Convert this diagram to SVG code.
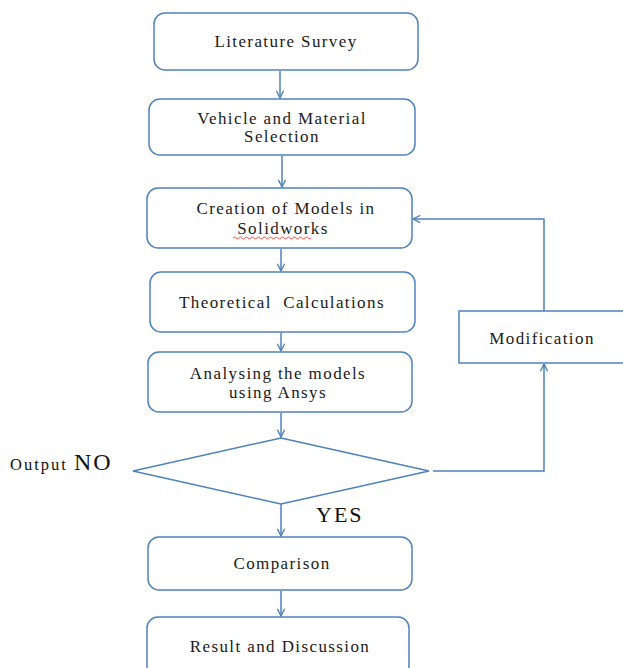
<svg xmlns="http://www.w3.org/2000/svg" width="623" height="668" viewBox="0 0 623 668">
<style>
.box{fill:#fff;stroke:#4f81bd;stroke-width:1.5}
.ln{fill:none;stroke:#4f81bd;stroke-width:1.5}
.t{font-family:"Liberation Serif","Times New Roman",serif;font-size:17px;fill:#1a1a1a;text-anchor:middle;letter-spacing:1.4px}
.lbl{font-family:"Liberation Serif","Times New Roman",serif;fill:#111}
</style>
<defs>
<marker id="ah" viewBox="0 0 10 10" refX="9" refY="5" markerWidth="9" markerHeight="9" markerUnits="userSpaceOnUse" orient="auto">
<path d="M1,1 L9,5 L1,9" fill="none" stroke="#4f81bd" stroke-width="1.5"/>
</marker>
</defs>
<rect width="623" height="668" fill="#fff"/>
<g id="connectors">
<line class="ln" x1="280" y1="71" x2="280" y2="98" marker-end="url(#ah)"/>
<line class="ln" x1="282" y1="156" x2="282" y2="187" marker-end="url(#ah)"/>
<line class="ln" x1="281" y1="249" x2="281" y2="271" marker-end="url(#ah)"/>
<line class="ln" x1="281" y1="333" x2="281" y2="351" marker-end="url(#ah)"/>
<line class="ln" x1="281" y1="413" x2="281" y2="437" marker-end="url(#ah)"/>
<line class="ln" x1="281" y1="504" x2="281" y2="536" marker-end="url(#ah)"/>
<line class="ln" x1="281" y1="591" x2="281" y2="616" marker-end="url(#ah)"/>
<polyline class="ln" points="433,471 544,471 544,364" marker-end="url(#ah)"/>
<polyline class="ln" points="544,311 544,219 413,219" marker-end="url(#ah)"/>
</g>
<g id="n1"><rect class="box" x="154" y="13" width="264" height="57" rx="11"/><text class="t" x="286" y="47">Literature Survey</text></g>
<g id="n2"><rect class="box" x="149" y="99" width="266" height="56" rx="11"/><text class="t" x="282" y="124">Vehicle and Material</text><text class="t" x="282" y="142">Selection</text></g>
<g id="n3"><rect class="box" x="147" y="188" width="265" height="60" rx="11"/><text class="t" x="286" y="214">Creation of Models in</text><text class="t" x="283" y="234">Solidworks</text><path d="M233,238 q1.5,-2 3,0 t3,0 t3,0 t3,0 t3,0 t3,0 t3,0 t3,0 t3,0 t3,0 t3,0 t3,0 t3,0 t3,0 t3,0 t3,0 t3,0 t3,0 t3,0 t3,0 t3,0 t3,0 t3,0 t3,0 t3,0 t3,0" fill="none" stroke="#e0302a" stroke-width="0.8"/></g>
<g id="n4"><rect class="box" x="150" y="272" width="265" height="60" rx="11"/><text class="t" x="282" y="308" xml:space="preserve">Theoretical  Calculations</text></g>
<g id="n5"><rect class="box" x="148" y="352" width="264" height="60" rx="11"/><text class="t" x="278" y="379">Analysing the models</text><text class="t" x="278" y="398">using Ansys</text></g>
<g id="n6"><polygon class="box" points="281,438 429,471 281,504 133,471"/></g>
<g id="n7"><rect class="box" x="148" y="537" width="264" height="53" rx="11"/><text class="t" x="282" y="569">Comparison</text></g>
<g id="n8"><rect class="box" x="147" y="617" width="262" height="60" rx="11"/><text class="t" x="280" y="652">Result and Discussion</text></g>
<g id="n9"><rect class="box" x="459" y="311" width="170" height="52"/><text class="t" x="542" y="344">Modification</text></g>
<g id="labels">
<text class="lbl" x="10" y="470" font-size="16.5" letter-spacing="2">Output <tspan font-size="24" letter-spacing="2">NO</tspan></text>
<text class="lbl" x="316" y="522" font-size="22" letter-spacing="2">YES</text>
</g>
</svg>
